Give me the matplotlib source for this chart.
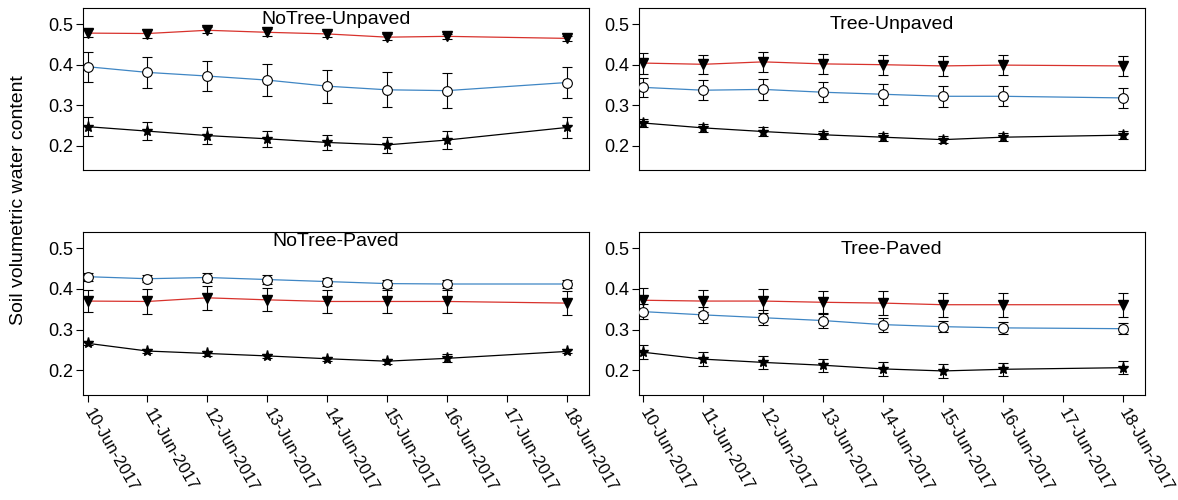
"""
Soil volumetric water content, four site types, 10-18 Jun 2017
"""
import matplotlib.pyplot as plt
import matplotlib.dates as mdates
import pandas as pd

plt.rcParams['font.family'] = ['Liberation Sans', 'DejaVu Sans']

dates = pd.to_datetime(['2017-06-10', '2017-06-11', '2017-06-12', '2017-06-13',
                        '2017-06-14', '2017-06-15', '2017-06-16', '2017-06-18'])
tick_dates = pd.date_range('2017-06-10', '2017-06-18', freq='D')
panels = ['NoTree-Unpaved', 'Tree-Unpaved', 'NoTree-Paved', 'Tree-Paved']

# red line, filled down triangles
tri_mean = {
    'NoTree-Unpaved': [0.478, 0.477, 0.485, 0.480, 0.476, 0.468, 0.470, 0.465],
    'Tree-Unpaved':   [0.404, 0.401, 0.407, 0.402, 0.400, 0.397, 0.399, 0.397],
    'NoTree-Paved':   [0.370, 0.369, 0.378, 0.373, 0.369, 0.369, 0.369, 0.365],
    'Tree-Paved':     [0.372, 0.370, 0.370, 0.367, 0.365, 0.361, 0.361, 0.361],
}
tri_err = {
    'NoTree-Unpaved': [0.009, 0.010, 0.007, 0.008, 0.007, 0.007, 0.007, 0.007],
    'Tree-Unpaved':   [0.026, 0.024, 0.025, 0.025, 0.025, 0.025, 0.025, 0.025],
    'NoTree-Paved':   [0.027, 0.030, 0.030, 0.028, 0.028, 0.029, 0.029, 0.030],
    'Tree-Paved':     [0.030, 0.027, 0.030, 0.028, 0.029, 0.029, 0.030, 0.029],
}

# blue line, open circles
circ_mean = {
    'NoTree-Unpaved': [0.395, 0.381, 0.372, 0.362, 0.347, 0.338, 0.336, 0.356],
    'Tree-Unpaved':   [0.344, 0.337, 0.339, 0.332, 0.327, 0.322, 0.322, 0.318],
    'NoTree-Paved':   [0.430, 0.425, 0.428, 0.423, 0.418, 0.413, 0.412, 0.412],
    'Tree-Paved':     [0.344, 0.336, 0.329, 0.322, 0.312, 0.307, 0.304, 0.302],
}
circ_err = {
    'NoTree-Unpaved': [0.037, 0.038, 0.038, 0.040, 0.041, 0.043, 0.043, 0.039],
    'Tree-Unpaved':   [0.024, 0.024, 0.026, 0.025, 0.026, 0.026, 0.025, 0.024],
    'NoTree-Paved':   [0.010, 0.009, 0.010, 0.010, 0.010, 0.010, 0.010, 0.009],
    'Tree-Paved':     [0.018, 0.019, 0.018, 0.018, 0.017, 0.014, 0.015, 0.014],
}

# black line, stars
star_mean = {
    'NoTree-Unpaved': [0.247, 0.236, 0.225, 0.217, 0.208, 0.202, 0.214, 0.245],
    'Tree-Unpaved':   [0.256, 0.244, 0.235, 0.227, 0.221, 0.215, 0.221, 0.226],
    'NoTree-Paved':   [0.266, 0.247, 0.241, 0.235, 0.228, 0.222, 0.229, 0.246],
    'Tree-Paved':     [0.244, 0.227, 0.219, 0.212, 0.203, 0.198, 0.202, 0.206],
}
star_err = {
    'NoTree-Unpaved': [0.024, 0.023, 0.022, 0.020, 0.019, 0.019, 0.022, 0.025],
    'Tree-Unpaved':   [0.010, 0.010, 0.011, 0.010, 0.010, 0.009, 0.010, 0.010],
    'NoTree-Paved':   [0.005, 0.005, 0.005, 0.005, 0.005, 0.006, 0.010, 0.005],
    'Tree-Paved':     [0.017, 0.017, 0.017, 0.016, 0.017, 0.017, 0.016, 0.016],
}

RED = '#d8322c'
BLUE = '#3f86c4'

fig = plt.figure(figsize=(11.78, 5), dpi=100)
positions = {
    'NoTree-Unpaved': [0.0705, 0.660, 0.4295, 0.324],
    'Tree-Unpaved':   [0.5424, 0.660, 0.4295, 0.324],
    'NoTree-Paved':   [0.0705, 0.211, 0.4295, 0.325],
    'Tree-Paved':     [0.5424, 0.211, 0.4295, 0.325],
}
title_y = {'NoTree-Unpaved': 0.93, 'Tree-Unpaved': 0.90,
           'NoTree-Paved': 0.94, 'Tree-Paved': 0.895}

for name in panels:
    ax = fig.add_axes(positions[name])
    ebar = dict(ecolor='black', elinewidth=0.8, capsize=3.3, capthick=0.8)
    ax.errorbar(dates, star_mean[name], yerr=star_err[name], color='black', lw=0.9,
                marker='*', ms=8, mfc='black', mec='black', zorder=3, **ebar)
    ax.errorbar(dates, circ_mean[name], yerr=circ_err[name], color=BLUE, lw=0.9,
                marker='o', ms=7, mfc='white', mec='black', mew=0.8, zorder=3, **ebar)
    ax.errorbar(dates, tri_mean[name], yerr=tri_err[name], color=RED, lw=0.9,
                marker='v', ms=7, mfc='black', mec='black', zorder=3, **ebar)

    ax.set_ylim(0.14, 0.54)
    ax.set_yticks([0.2, 0.3, 0.4, 0.5])
    ax.set_xlim(tick_dates[0] - pd.Timedelta(hours=1.8),
                tick_dates[-1] + pd.Timedelta(hours=8.9))
    ax.set_xticks(tick_dates)
    ax.xaxis.set_major_formatter(mdates.DateFormatter('%d-%b-%Y'))
    ax.tick_params(axis='y', direction='out', length=5, width=0.8, labelsize=13, pad=2)
    for s in ax.spines.values():
        s.set_linewidth(0.8)

    if name.endswith('Unpaved'):
        ax.tick_params(axis='x', bottom=False, labelbottom=False)
    else:
        ax.tick_params(axis='x', direction='out', length=5, width=0.8, labelsize=12, pad=6)
        for lab in ax.get_xticklabels():
            lab.set_rotation(-60)
            lab.set_ha('left')
            lab.set_va('center')
            lab.set_rotation_mode('anchor')

    ax.text(0.5, title_y[name], name, transform=ax.transAxes,
            ha='center', va='center', fontsize=14)

fig.text(0.016, 0.6, 'Soil volumetric water content', rotation=90,
         ha='center', va='center', fontsize=14)

fig.savefig('out.png', dpi=100)
plt.close()
